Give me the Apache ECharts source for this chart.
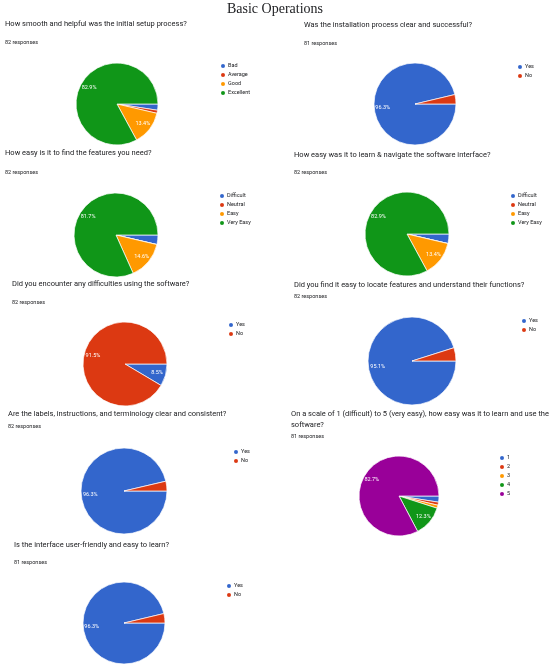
<!DOCTYPE html>
<html lang="en">
  <head>
    <meta charset="UTF-8" />
    <script src="https://cdn.jsdelivr.net/npm/echarts@6/dist/echarts.min.js"></script>
    <title>Basic Operations</title>
    <style>
      body{margin:0;padding:0;background:#fff;}
      #main{width:550px;height:670px;}
    </style>
  </head>
  <body>
    <div id="main"></div>
    <script>
      // survey questions, in reading order
      var questions = [
        'How smooth and helpful was the initial setup process?',
        'Was the installation process clear and successful?',
        'How easy is it to find the features you need?',
        'How easy was it to learn & navigate the software interface?',
        'Did you encounter any difficulties using the software?',
        'Did you find it easy to locate features and understand their functions?',
        'Are the labels, instructions, and terminology clear and consistent?',
        'On a scale of 1 (difficult) to 5 (very easy), how easy was it to learn and use the\nsoftware?',
        'Is the interface user-friendly and easy to learn?'
      ];
      var responses = [82, 81, 82, 82, 82, 82, 82, 81, 81];

      // categories
      var setupCats = ['Bad', 'Average', 'Good', 'Excellent'];
      var easeCats = ['Difficult', 'Neutral', 'Easy', 'Very Easy'];
      var yesNoCats = ['Yes', 'No'];
      var scaleCats = ['1', '2', '3', '4', '5'];

      // response counts
      var setupVals = [2, 1, 11, 68];
      var installVals = [78, 3];
      var featureVals = [3, 0, 12, 67];
      var navigateVals = [3, 0, 11, 68];
      var difficultyVals = [7, 75];
      var locateVals = [78, 4];
      var labelsVals = [79, 3];
      var scaleVals = [2, 1, 1, 10, 67];
      var friendlyVals = [78, 3];

      var charts = [
        [setupCats, setupVals],
        [yesNoCats, installVals],
        [easeCats, featureVals],
        [easeCats, navigateVals],
        [yesNoCats, difficultyVals],
        [yesNoCats, locateVals],
        [yesNoCats, labelsVals],
        [scaleCats, scaleVals],
        [yesNoCats, friendlyVals]
      ];

      // layout: question x/y, responses y, pie centre, radius, legend x/y
      var layout = [
        {qx: 5,   qy: 18.5,  ry: 39.5,  cx: 117, cy: 104, r: 41, lx: 219, ly: 62},
        {qx: 304, qy: 19.5,  ry: 40.5,  cx: 415, cy: 104, r: 41, lx: 516, ly: 63},
        {qx: 5,   qy: 147.5, ry: 169.5, cx: 116, cy: 235, r: 42, lx: 218, ly: 192},
        {qx: 294, qy: 149.5, ry: 169.5, cx: 407, cy: 234, r: 42, lx: 509, ly: 192},
        {qx: 12,  qy: 278.5, ry: 299.5, cx: 125, cy: 364, r: 42, lx: 227, ly: 321},
        {qx: 294, qy: 279.5, ry: 293.5, cx: 412, cy: 361, r: 44, lx: 520, ly: 317},
        {qx: 8,   qy: 408.5, ry: 423.5, cx: 124, cy: 491, r: 43, lx: 232, ly: 448},
        {qx: 291, qy: 408.5, ry: 433.5, cx: 399, cy: 496, r: 40, lx: 498, ly: 454},
        {qx: 14,  qy: 539.5, ry: 559.5, cx: 124, cy: 623, r: 41, lx: 225, ly: 582}
      ];

      var palette = ['#3366cc', '#dc3912', '#ff9900', '#109618', '#990099'];
      var font = 'Roboto, "Noto Sans", sans-serif';

      var titles = [{
        text: 'Basic Operations',
        left: 'center',
        top: 2,
        padding: 0,
        textStyle: {fontFamily: '"Liberation Serif", serif', fontSize: 14, fontWeight: 'normal', color: '#202124'}
      }];
      var legends = [];
      var pies = [];
      var labelPies = [];

      charts.forEach(function (c, i) {
        var L = layout[i];
        var data = c[0].map(function (name, k) {
          return {name: name, value: c[1][k], itemStyle: {color: palette[k]}};
        });
        var plain = c[0].map(function (name, k) {
          return {name: name, value: c[1][k]};
        });
        titles.push({
          text: questions[i],
          left: L.qx, top: L.qy, padding: 0,
          textStyle: {fontFamily: font, fontSize: 7.5, lineHeight: 11, fontWeight: 'normal', color: '#202124'}
        });
        titles.push({
          text: responses[i] + ' responses',
          left: L.qx, top: L.ry, padding: 0,
          textStyle: {fontFamily: font, fontSize: 5.5, lineHeight: 7, fontWeight: 'normal', color: '#202124'}
        });
        legends.push({
          data: c[0],
          orient: 'vertical',
          left: L.lx, top: L.ly, padding: 0,
          icon: 'circle',
          itemWidth: 6, itemHeight: 6, itemGap: 1,
          textStyle: {fontFamily: font, fontSize: 5.5, lineHeight: 6, color: '#202124', padding: [0, 0, 0, -3]}
        });
        pies.push({
          type: 'pie',
          center: [L.cx, L.cy],
          radius: L.r,
          startAngle: 0,
          clockwise: true,
          animation: false,
          silent: true,
          data: data,
          label: {show: false},
          labelLine: {show: false},
          itemStyle: {borderColor: '#ffffff', borderWidth: 0.7}
        });
        // transparent ring only to put the percentages at ~0.72 radius
        labelPies.push({
          type: 'pie',
          center: [L.cx, L.cy],
          radius: [L.r * 0.44, L.r],
          startAngle: 0,
          clockwise: true,
          animation: false,
          silent: true,
          percentPrecision: 3,
          data: plain,
          itemStyle: {color: 'rgba(0,0,0,0)', borderWidth: 0},
          labelLine: {show: false},
          label: {
            show: true,
            position: 'inside',
            fontFamily: font,
            fontSize: 5.5,
            color: '#ffffff',
            formatter: function (p) {
              return p.percent >= 5 ? p.percent.toFixed(1) + '%' : '';
            }
          }
        });
      });

      var myChart = echarts.init(document.getElementById('main'));
      myChart.setOption({
        backgroundColor: '#ffffff',
        title: titles,
        legend: legends,
        series: pies.concat(labelPies)
      });
    </script>
  </body>
</html>
